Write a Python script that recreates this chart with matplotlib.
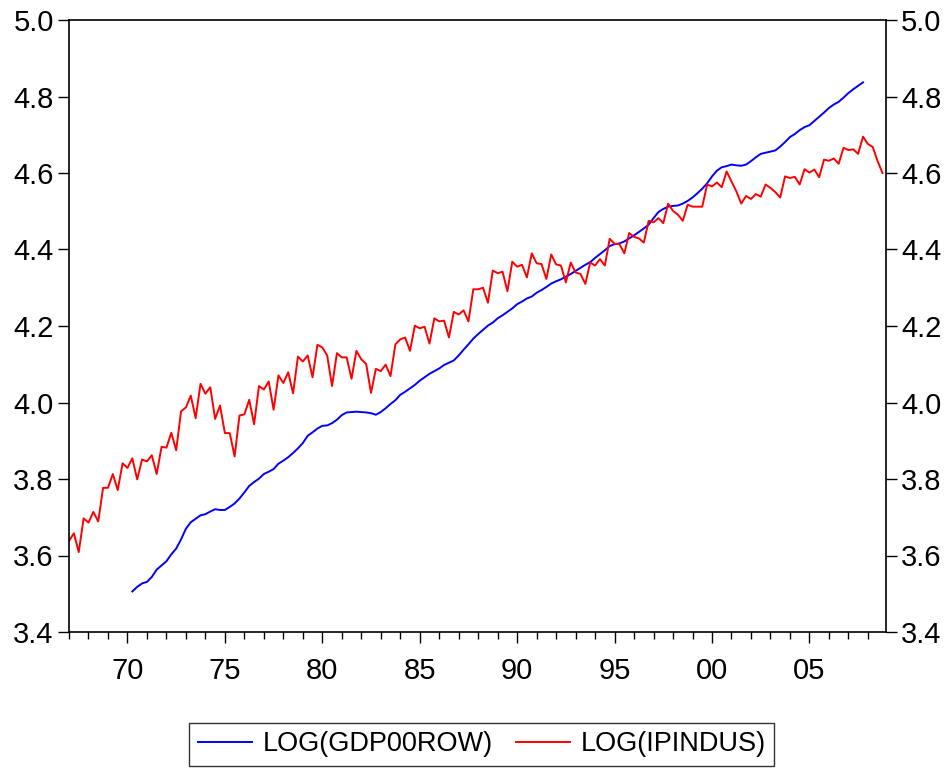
import matplotlib
matplotlib.use("Agg")
import matplotlib.pyplot as plt
from matplotlib.ticker import FixedLocator, MultipleLocator, NullFormatter
import numpy as np

plt.rcParams['font.family'] = ['Liberation Sans', 'DejaVu Sans']

# LOG(IPINDUS), quarterly 1967Q1 - 2008Q4
red_start = 1967.0
ipindus = [
    3.638, 3.658, 3.609, 3.697,  # 1967
    3.686, 3.714, 3.689, 3.777,  # 1968
    3.777, 3.813, 3.771, 3.841,  # 1969
    3.829, 3.854, 3.799, 3.851,  # 1970
    3.846, 3.862, 3.813, 3.884,  # 1971
    3.882, 3.921, 3.875, 3.977,  # 1972
    3.987, 4.018, 3.959, 4.049,  # 1973
    4.023, 4.040, 3.957, 3.992,  # 1974
    3.920, 3.920, 3.859, 3.966,  # 1975
    3.969, 4.007, 3.943, 4.043,  # 1976
    4.034, 4.055, 3.981, 4.071,  # 1977
    4.051, 4.079, 4.024, 4.120,  # 1978
    4.107, 4.123, 4.066, 4.151,  # 1979
    4.144, 4.123, 4.043, 4.129,  # 1980
    4.118, 4.118, 4.062, 4.135,  # 1981
    4.113, 4.101, 4.025, 4.088,  # 1982
    4.082, 4.099, 4.069, 4.152,  # 1983
    4.165, 4.170, 4.135, 4.201,  # 1984
    4.194, 4.198, 4.154, 4.220,  # 1985
    4.212, 4.214, 4.170, 4.237,  # 1986
    4.230, 4.241, 4.212, 4.296,  # 1987
    4.296, 4.300, 4.261, 4.345,  # 1988
    4.338, 4.342, 4.291, 4.368,  # 1989
    4.355, 4.360, 4.327, 4.390,  # 1990
    4.364, 4.362, 4.323, 4.387,  # 1991
    4.361, 4.358, 4.314, 4.366,  # 1992
    4.340, 4.336, 4.310, 4.366,  # 1993
    4.358, 4.375, 4.358, 4.428,  # 1994
    4.415, 4.414, 4.390, 4.443,  # 1995
    4.433, 4.429, 4.418, 4.475,  # 1996
    4.471, 4.482, 4.469, 4.520,  # 1997
    4.501, 4.491, 4.475, 4.517,  # 1998
    4.512, 4.512, 4.512, 4.570,  # 1999
    4.565, 4.575, 4.563, 4.604,  # 2000
    4.578, 4.552, 4.520, 4.540,  # 2001
    4.532, 4.545, 4.538, 4.570,  # 2002
    4.561, 4.550, 4.536, 4.591,  # 2003
    4.587, 4.590, 4.570, 4.610,  # 2004
    4.601, 4.609, 4.589, 4.635,  # 2005
    4.632, 4.638, 4.624, 4.666,  # 2006
    4.660, 4.662, 4.650, 4.695,  # 2007
    4.676, 4.668, 4.631, 4.600,  # 2008
]

# LOG(GDP00ROW), quarterly 1970Q2 - 2007Q4
blue_start = 1970.25
gdp00row = [
    3.506, 3.518, 3.527,         # 1970 Q2-Q4
    3.531, 3.544, 3.563, 3.574,  # 1971
    3.585, 3.603, 3.618, 3.642,  # 1972
    3.670, 3.687, 3.696, 3.705,  # 1973
    3.708, 3.715, 3.721, 3.719,  # 1974
    3.719, 3.727, 3.736, 3.749,  # 1975
    3.765, 3.782, 3.792, 3.801,  # 1976
    3.813, 3.819, 3.826, 3.840,  # 1977
    3.848, 3.857, 3.868, 3.880,  # 1978
    3.894, 3.913, 3.922, 3.932,  # 1979
    3.939, 3.940, 3.946, 3.955,  # 1980
    3.967, 3.974, 3.975, 3.976,  # 1981
    3.975, 3.974, 3.972, 3.968,  # 1982
    3.975, 3.985, 3.996, 4.006,  # 1983
    4.020, 4.028, 4.037, 4.046,  # 1984
    4.057, 4.066, 4.075, 4.082,  # 1985
    4.089, 4.098, 4.104, 4.110,  # 1986
    4.123, 4.138, 4.152, 4.167,  # 1987
    4.179, 4.190, 4.201, 4.209,  # 1988
    4.220, 4.228, 4.237, 4.246,  # 1989
    4.257, 4.264, 4.272, 4.277,  # 1990
    4.287, 4.294, 4.302, 4.311,  # 1991
    4.317, 4.322, 4.329, 4.336,  # 1992
    4.344, 4.352, 4.360, 4.367,  # 1993
    4.378, 4.388, 4.398, 4.409,  # 1994
    4.414, 4.416, 4.421, 4.429,  # 1995
    4.437, 4.446, 4.455, 4.465,  # 1996
    4.482, 4.498, 4.506, 4.512,  # 1997
    4.514, 4.515, 4.520, 4.527,  # 1998
    4.536, 4.547, 4.559, 4.573,  # 1999
    4.591, 4.606, 4.615, 4.618,  # 2000
    4.622, 4.620, 4.619, 4.622,  # 2001
    4.631, 4.641, 4.650, 4.653,  # 2002
    4.656, 4.659, 4.669, 4.681,  # 2003
    4.694, 4.702, 4.712, 4.720,  # 2004
    4.725, 4.736, 4.747, 4.758,  # 2005
    4.770, 4.779, 4.786, 4.797,  # 2006
    4.809, 4.819, 4.828, 4.837,  # 2007
]

year_ticks = [1970, 1975, 1980, 1985, 1990, 1995, 2000, 2005]
year_labels = ["70", "75", "80", "85", "90", "95", "00", "05"]
y_ticks = [3.4, 3.6, 3.8, 4.0, 4.2, 4.4, 4.6, 4.8, 5.0]

x_red = red_start + np.arange(len(ipindus)) / 4.0
x_blue = blue_start + np.arange(len(gdp00row)) / 4.0

fig = plt.figure(figsize=(9.52, 7.69), dpi=100)
ax = fig.add_axes([69 / 952, 1 - 632 / 769, (886 - 69) / 952, 612 / 769])

l1, = ax.plot(x_blue, gdp00row, color=(0, 0, 1), lw=1.4, label="LOG(GDP00ROW)")
l2, = ax.plot(x_red, ipindus, color=(1, 0, 0), lw=1.4, label="LOG(IPINDUS)")

ax.set_xlim(1967.0, 2008.93)
ax.set_ylim(3.4, 5.0)
ax.xaxis.set_major_locator(FixedLocator(year_ticks))
ax.set_xticklabels(year_labels)
ax.xaxis.set_minor_locator(MultipleLocator(1))
ax.xaxis.set_minor_formatter(NullFormatter())
ax.set_yticks(y_ticks)
ax.set_yticklabels([f"{v:.1f}" for v in y_ticks])

ax.tick_params(axis='y', which='both', left=True, right=True, labelleft=True,
               labelright=True, direction='out', length=8, width=1,
               labelsize=21, pad=3)
ax.tick_params(axis='x', which='major', direction='out', length=8, width=1,
               labelsize=21, pad=10)
ax.tick_params(axis='x', which='minor', direction='out', length=5, width=1)
for s in ax.spines.values():
    s.set_linewidth(1.2)
    s.set_color('black')

leg = fig.legend(handles=[l1, l2], loc='center', ncol=2,
                 bbox_to_anchor=(0.506, 0.032), fontsize=19.5, frameon=True,
                 fancybox=False, shadow=False, handlelength=2.0,
                 handletextpad=0.4, columnspacing=0.85, borderpad=0.3,
                 edgecolor='black')
leg.get_frame().set_linewidth(1.0)

fig.savefig("out.png", dpi=100)
